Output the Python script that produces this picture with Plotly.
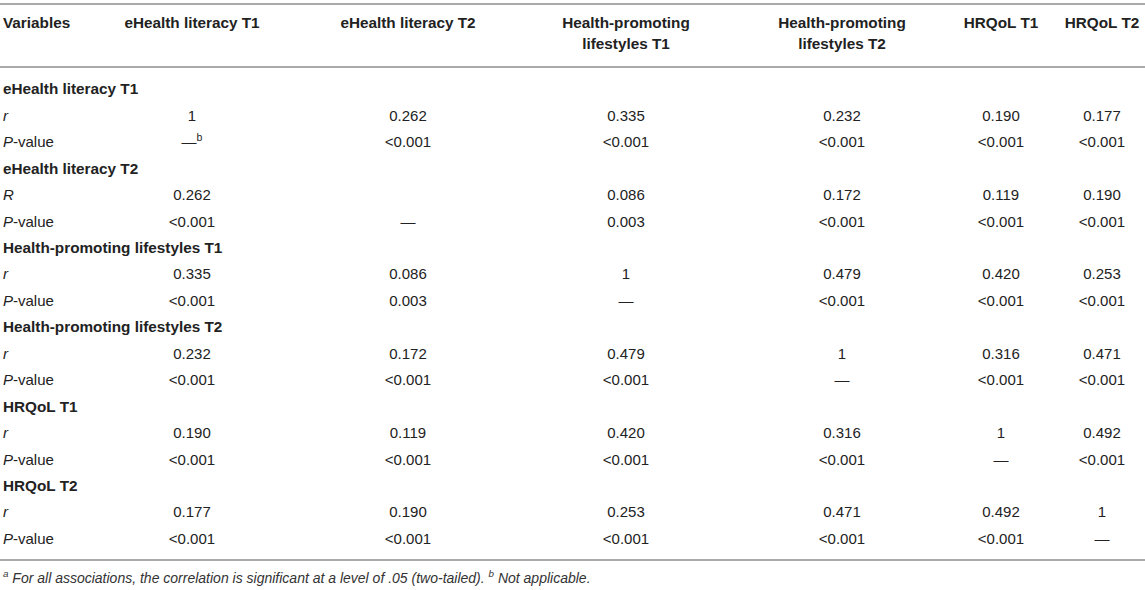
import plotly.graph_objects as go

# table content
headers = ["eHealth literacy T1", "eHealth literacy T2", "Health-promoting<br>lifestyles T1",
           "Health-promoting<br>lifestyles T2", "HRQoL T1", "HRQoL T2"]
variables = ["eHealth literacy T1", "eHealth literacy T2", "Health-promoting lifestyles T1",
             "Health-promoting lifestyles T2", "HRQoL T1", "HRQoL T2"]
r_labels = ["r", "R", "r", "r", "r", "r"]
r_values = [
    ["1", "0.262", "0.335", "0.232", "0.190", "0.177"],
    ["0.262", "", "0.086", "0.172", "0.119", "0.190"],
    ["0.335", "0.086", "1", "0.479", "0.420", "0.253"],
    ["0.232", "0.172", "0.479", "1", "0.316", "0.471"],
    ["0.190", "0.119", "0.420", "0.316", "1", "0.492"],
    ["0.177", "0.190", "0.253", "0.471", "0.492", "1"],
]
p_values = [
    ["—", "<0.001", "<0.001", "<0.001", "<0.001", "<0.001"],
    ["<0.001", "—", "0.003", "<0.001", "<0.001", "<0.001"],
    ["<0.001", "0.003", "—", "<0.001", "<0.001", "<0.001"],
    ["<0.001", "<0.001", "<0.001", "—", "<0.001", "<0.001"],
    ["<0.001", "<0.001", "<0.001", "<0.001", "—", "<0.001"],
    ["<0.001", "<0.001", "<0.001", "<0.001", "<0.001", "—"],
]
p_marks = {(0, 0): "b"}
footnote = ("<sup>a</sup> For all associations, the correlation is significant at a level of .05 "
            "(two-tailed). <sup>b</sup> Not applicable.")

W, H = 1145, 590
FONT = "Liberation Sans, Arial, Helvetica, sans-serif"
TXT = "#222222"
BOLD = dict(family=FONT, size=15.3, color=TXT)
REG = dict(family=FONT, size=15, color=TXT)
col_x = [192, 408, 626, 842, 1001, 1102]
y0, dy = 90.5, 26.45
LX = 3


def esc(s):
    return s.replace("<", "&lt;")


fig = go.Figure()

# header (two lines)
parts = [h.split("<br>") for h in headers]
for k, yy in enumerate([24, 45]):
    xs = [col_x[j] for j, p in enumerate(parts) if len(p) > k]
    txt = ["<b>%s</b>" % p[k] for p in parts if len(p) > k]
    fig.add_trace(go.Scatter(x=xs, y=[yy] * len(xs), mode="text", text=txt,
                             textposition="middle center", textfont=BOLD, hoverinfo="skip"))
fig.add_trace(go.Scatter(x=[LX], y=[24], mode="text", text=["<b>Variables</b>"],
                         textposition="middle right", textfont=BOLD, hoverinfo="skip"))

# row labels
grp_y, grp_t, lab_y, lab_t = [], [], [], []
for i, v in enumerate(variables):
    base = y0 + 3 * i * dy
    grp_y.append(base)
    grp_t.append("<b>%s</b>" % v)
    lab_y += [base + dy, base + 2 * dy]
    lab_t += ["<i>%s</i>" % r_labels[i], "<i>P</i>-value"]
fig.add_trace(go.Scatter(x=[LX] * len(grp_y), y=grp_y, mode="text", text=grp_t,
                         textposition="middle right", textfont=BOLD, hoverinfo="skip"))
fig.add_trace(go.Scatter(x=[LX] * len(lab_y), y=lab_y, mode="text", text=lab_t,
                         textposition="middle right", textfont=REG, hoverinfo="skip"))

# cell values
for j in range(len(headers)):
    ys, ts = [], []
    for i in range(len(variables)):
        base = y0 + 3 * i * dy
        p = esc(p_values[i][j])
        if (i, j) in p_marks:
            p += "<sup>%s</sup>" % p_marks[(i, j)]
        if r_values[i][j]:
            ys.append(base + dy)
            ts.append(esc(r_values[i][j]))
        ys.append(base + 2 * dy)
        ts.append(p)
    fig.add_trace(go.Scatter(x=[col_x[j]] * len(ys), y=ys, mode="text", text=ts,
                             textposition="middle center", textfont=REG, hoverinfo="skip"))

# footnote
fig.add_trace(go.Scatter(x=[LX], y=[579], mode="text", text=["<i>%s</i>" % footnote],
                         textposition="middle right",
                         textfont=dict(family=FONT, size=14, color="#333333"), hoverinfo="skip"))

for yy in [4, 67, 560]:
    fig.add_shape(type="line", x0=0, x1=W, y0=yy, y1=yy, line=dict(color="#aaaaaa", width=2))

fig.update_traces(cliponaxis=False)
fig.update_layout(
    width=W, height=H, margin=dict(l=0, r=0, t=0, b=0),
    paper_bgcolor="white", plot_bgcolor="white", showlegend=False,
    xaxis=dict(range=[0, W], visible=False, fixedrange=True),
    yaxis=dict(range=[H, 0], visible=False, fixedrange=True),
)
# page body has a default 8px margin; drop it so the figure fills the window
fig.write_html("out.html", config={"displayModeBar": False},
               post_script="document.body.style.margin='0';")
